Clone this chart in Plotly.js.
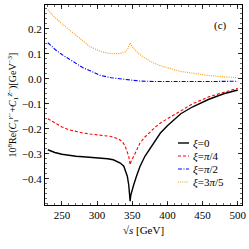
<!DOCTYPE html>
<html><head><meta charset="utf-8">
<script src="https://cdn.plot.ly/plotly-3.0.1.min.js"></script>
<style>html,body{margin:0;padding:0;background:#fff}#chart{width:249px;height:249px}</style>
</head><body><div id="chart"></div>
<script>
const names = ['<i>ξ</i>=0','<i>ξ</i>=<i>π</i>/4','<i>ξ</i>=<i>π</i>/2','<i>ξ</i>=3<i>π</i>/5'];
const colors = ['#000000','#ff0000','#0000ff','#ff9a1a'];
const dashes = ['solid','3px,2px','4px,1.5px,1px,1.5px','1px,1.2px'];
const widths = [1.4,1.1,1.1,1.2];

const sBlack = [230,240,250,260,270,280,290,304,315,323,333,338,340,343,345,347,348,350,352,356,361,368,376,383,390,400,409,419,436,459,480,500];
const vBlack = [-0.284,-0.295,-0.302,-0.307,-0.31,-0.312,-0.314,-0.317,-0.32,-0.324,-0.337,-0.35,-0.364,-0.39,-0.425,-0.49,-0.465,-0.443,-0.425,-0.39,-0.351,-0.31,-0.277,-0.245,-0.217,-0.188,-0.164,-0.14,-0.112,-0.082,-0.06,-0.045];

const sRed = [230,240,250,260,270,280,290,300,310,320,330,336,340,343,345,347,349,352,356,361,368,376,383,390,400,409,419,436,459,480,500];
const vRed = [-0.16,-0.178,-0.193,-0.204,-0.212,-0.217,-0.221,-0.224,-0.227,-0.231,-0.24,-0.252,-0.27,-0.29,-0.31,-0.344,-0.325,-0.311,-0.286,-0.257,-0.233,-0.211,-0.193,-0.177,-0.16,-0.144,-0.128,-0.1,-0.072,-0.053,-0.038];

const sBlue = [230,240,250,257,270,280,290,304,320,340,347,360,380,420,460,500];
const vBlue = [0.144,0.118,0.097,0.084,0.06,0.044,0.032,0.014,0.004,-0.004,-0.006,-0.009,-0.011,-0.012,-0.011,-0.01];

const sOrange = [230,240,250,257,270,280,290,304,315,323,333,340,344,347,351,356,361,376,390,419,436,459,480,500];
const vOrange = [0.276,0.245,0.22,0.204,0.172,0.148,0.128,0.11,0.102,0.1,0.101,0.107,0.122,0.143,0.124,0.11,0.096,0.069,0.052,0.029,0.021,0.013,0.008,0.004];

const xTicks = [250,300,350,400,450,500];
const yTicks = [-0.4,-0.3,-0.2,-0.1,0.0,0.1,0.2];
const yTickText = ['−0.4','−0.3','−0.2','−0.1','0.0','0.1','0.2'];

const xs = [sBlack,sRed,sBlue,sOrange];
const ys = [vBlack,vRed,vBlue,vOrange];
const font = "'Liberation Serif', serif";

const traces = xs.map((x,i)=>({
  x: x, y: ys[i], type:'scatter', mode:'lines', name: names[i], showlegend:false,
  line:{color:colors[i], dash:dashes[i], width:widths[i]}
}));

// custom legend in paper coordinates
const legX0 = 0.675, legX1 = 0.731, legTextX = 0.741;
const legY = [0.31,0.245,0.18,0.115];
const shapes = [], annotations = [];
names.forEach((n,i)=>{
  shapes.push({type:'line', xref:'paper', yref:'paper', x0:legX0, x1:legX1, y0:legY[i], y1:legY[i],
    line:{color:colors[i], dash:dashes[i], width:widths[i]}});
  annotations.push({xref:'paper', yref:'paper', x:legTextX, y:legY[i], xanchor:'left', yanchor:'middle',
    text:n, showarrow:false, font:{family:font, size:11, color:'#000'}});
});
annotations.push({xref:'paper', yref:'paper', x:0.893, y:0.895, text:'(c)', showarrow:false,
  xanchor:'center', yanchor:'middle', font:{family:font, size:11, color:'#000'}});

const axisCommon = {
  showline:true, linecolor:'#000', linewidth:1, mirror:'ticks', ticks:'inside', ticklen:4, tickwidth:0.8,
  tickcolor:'#000', showgrid:false, zeroline:false, tickfont:{family:font, size:11, color:'#000'}
};

const layout = {
  width:249, height:249, margin:{l:45, r:7, t:5, b:44},
  paper_bgcolor:'#fff', plot_bgcolor:'#fff', showlegend:false,
  xaxis: Object.assign({}, axisCommon, {
    range:[226,506], tickvals:xTicks, ticktext:xTicks.map(String),
    minor:{ticks:'inside', ticklen:2, dtick:10, tickcolor:'#000', tickwidth:0.6},
    title:{text:'√<i>s</i> [GeV]', font:{family:font, size:11, color:'#000'}, standoff:6}
  }),
  yaxis: Object.assign({}, axisCommon, {
    range:[-0.505,0.295], tickvals:yTicks, ticktext:yTickText,
    minor:{ticks:'inside', ticklen:2, dtick:0.02, tickcolor:'#000', tickwidth:0.6},
    title:{text:'10<sup>8</sup>Re(<i>C</i><sub>1</sub><sup><i>γ</i>−</sup>+<i>C</i><sub>1</sub><sup><i>Z</i>−</sup>)[GeV<sup>−3</sup>]',
      font:{family:font, size:10, color:'#000'}, standoff:3}
  }),
  shapes: shapes, annotations: annotations
};

Plotly.newPlot('chart', traces, layout, {displayModeBar:false, staticPlot:true});
</script></body></html>
